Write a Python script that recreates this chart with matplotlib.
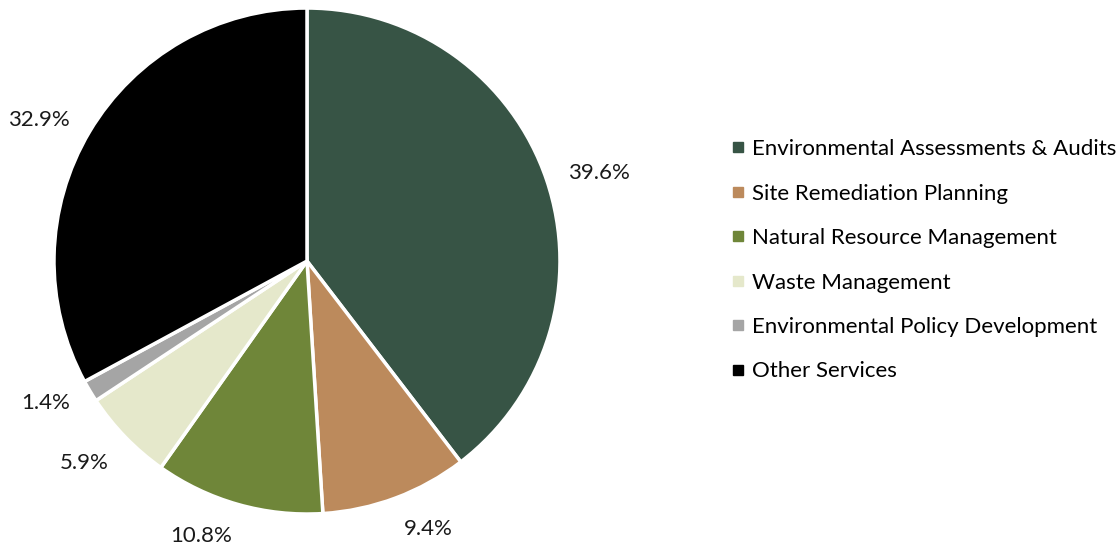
import numpy as np
import matplotlib.pyplot as plt
from matplotlib.lines import Line2D

plt.rcParams['font.family'] = ['Lato', 'DejaVu Sans']

categories = ['Environmental Assessments & Audits', 'Site Remediation Planning',
              'Natural Resource Management', 'Waste Management',
              'Environmental Policy Development', 'Other Services']
shares = [39.6, 9.4, 10.8, 5.9, 1.4, 32.9]
colors = ['#375445', '#BC8A5C', '#6F8639', '#E5E8CB', '#A5A5A5', '#000000']

fig = plt.figure(figsize=(11.2, 5.47), dpi=100)
ax = fig.add_axes([0.0482, 0.0603, 0.4518, 0.925])

wedges, _ = ax.pie(shares, colors=colors, startangle=90, counterclock=False,
                   wedgeprops=dict(edgecolor='white', linewidth=2.5))
ax.set_xlim(-1, 1)
ax.set_ylim(-1, 1)
ax.set_aspect('equal')

# outside-end labels, anchored by their nearest edge like Excel does
for w, v in zip(wedges, shares):
    ang = np.deg2rad((w.theta1 + w.theta2) / 2)
    c, s = np.cos(ang), np.sin(ang)
    ha = 'left' if c > 0.1 else ('right' if c < -0.1 else 'center')
    va = 'top' if s < -0.6 else ('bottom' if s > 0.6 else 'center')
    ax.text(1.09 * c, 1.09 * s, f'{v:.1f}%', ha=ha, va=va, fontsize=16,
            color='#1a1a1a', clip_on=False)

handles = [Line2D([], [], marker='s', linestyle='', markersize=7,
                  markerfacecolor=c, markeredgecolor=c) for c in colors]
fig.legend(handles, categories, loc='center left', bbox_to_anchor=(0.645, 0.524),
           frameon=False, fontsize=16, handlelength=0.6, handletextpad=0.35,
           labelspacing=1.1, borderaxespad=0)

fig.savefig('out.png', dpi=100)
